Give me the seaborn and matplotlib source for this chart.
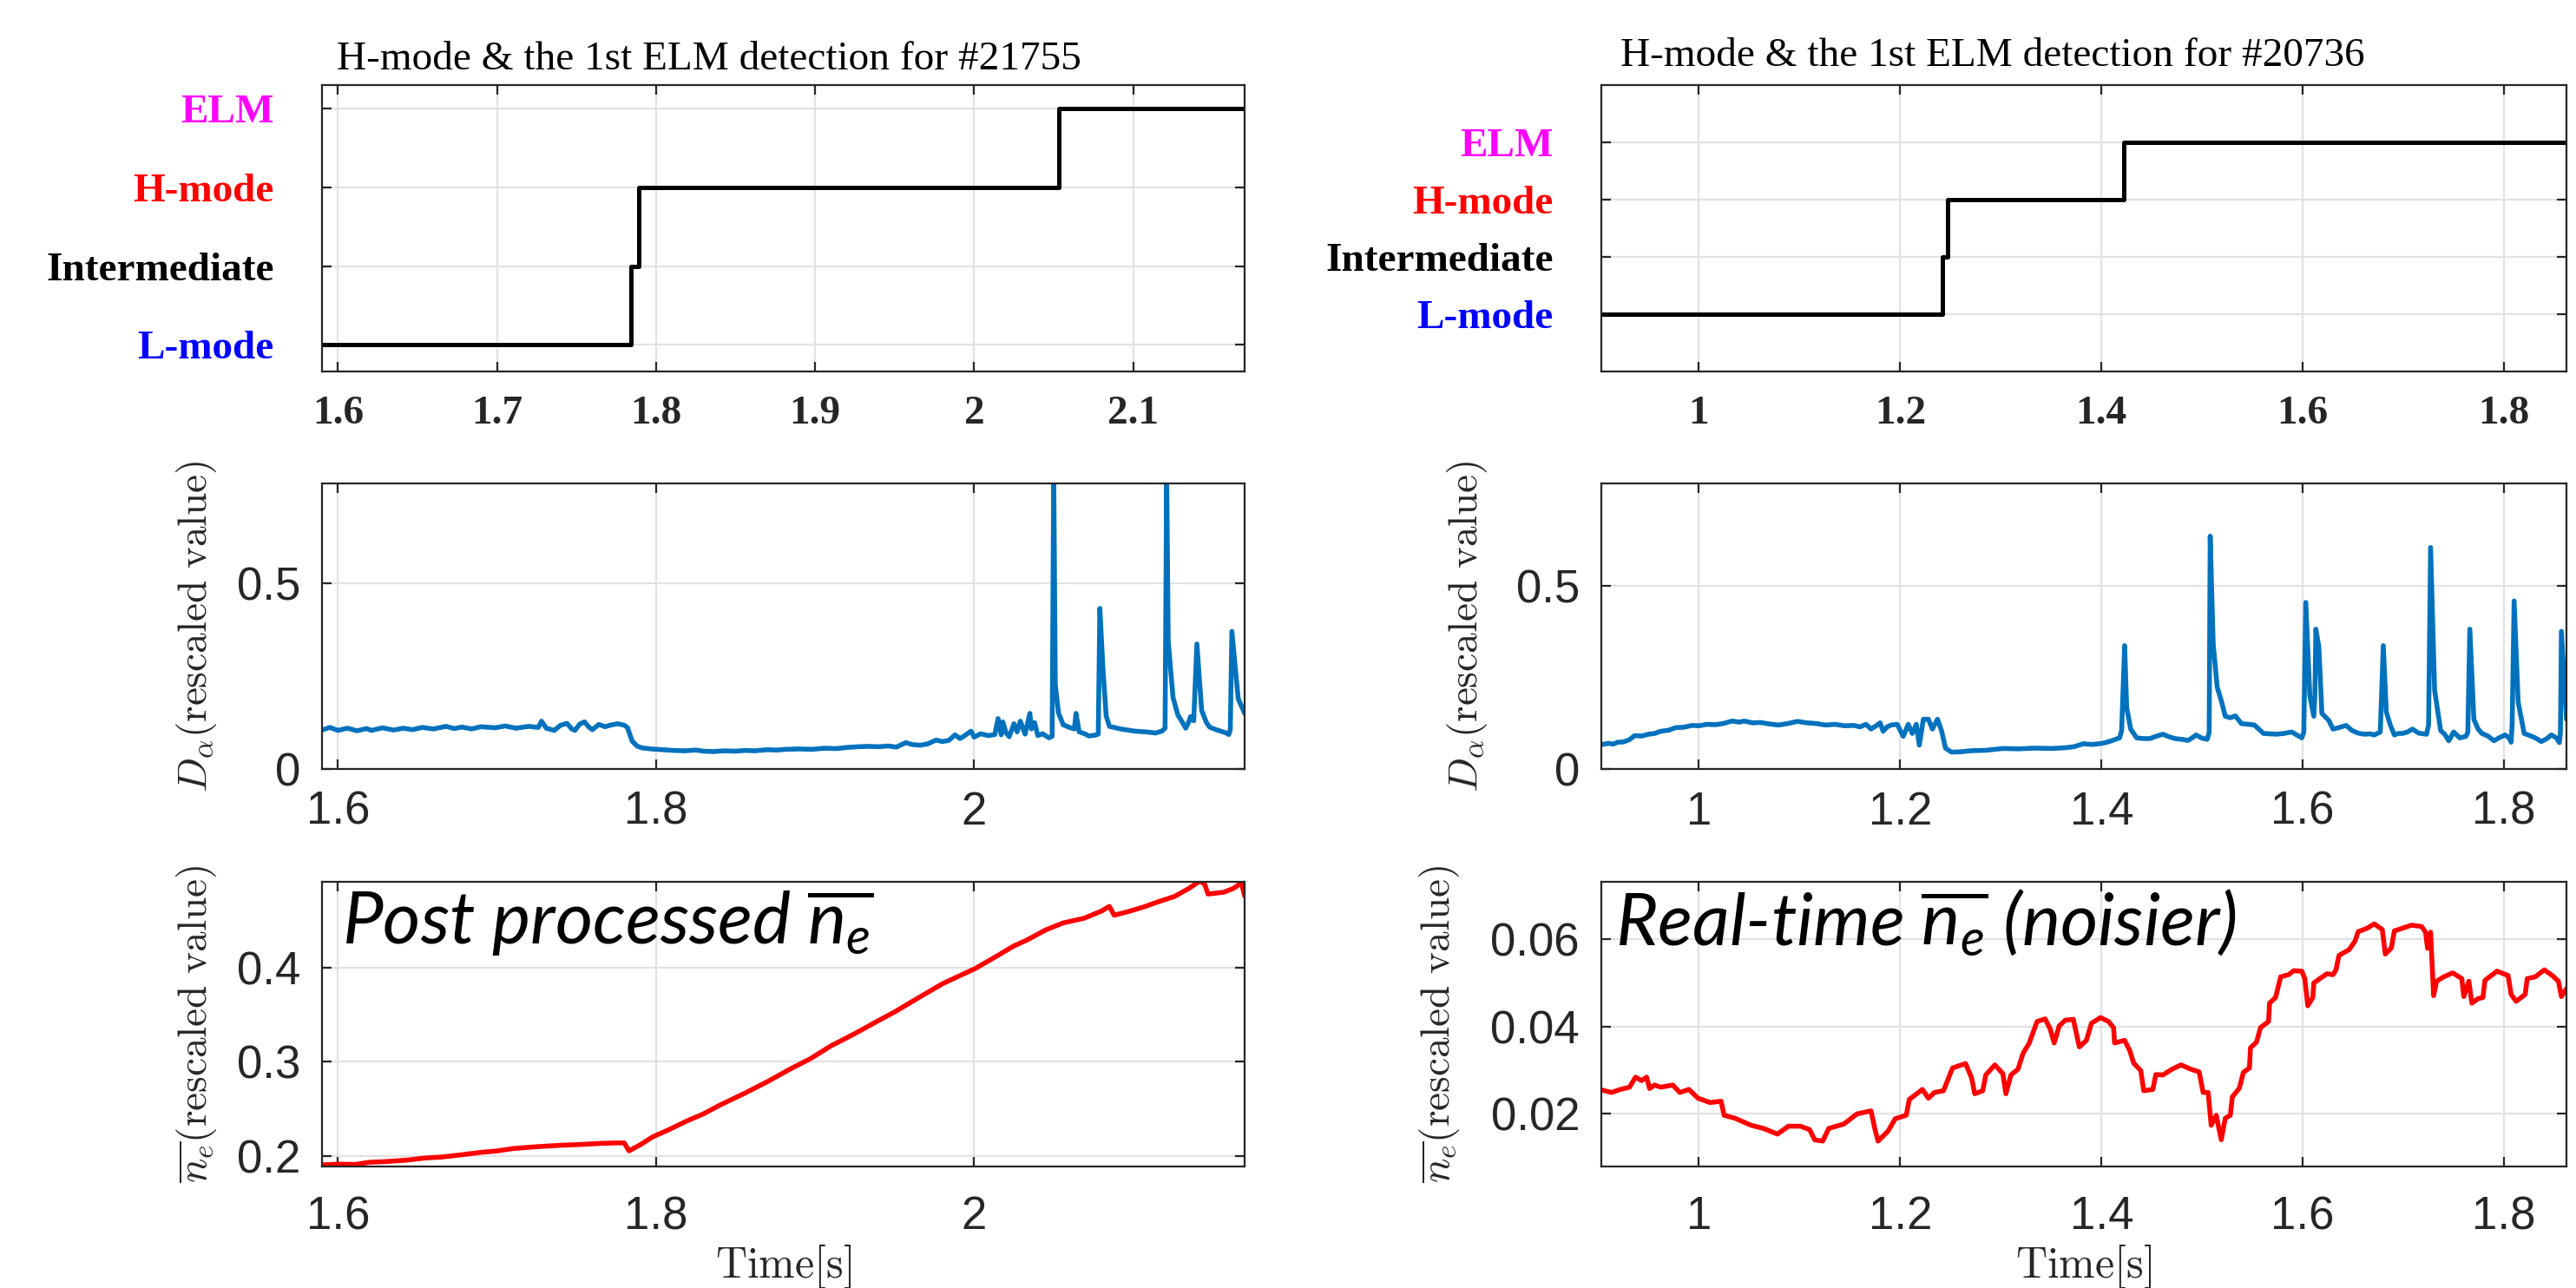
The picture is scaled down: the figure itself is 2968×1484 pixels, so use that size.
import numpy as np
import pandas as pd
import seaborn as sns
import matplotlib.pyplot as plt

# ---- state detection (top row) ----
state_names = ["L-mode", "Intermediate", "H-mode", "ELM"]
state_colors = ["#0000ff", "black", "#ff0000", "#ff00ff"]

t_state_l = [1.59, 1.784, 1.789, 2.053, 2.17]
state_l = [0, 1, 2, 3, 3]
t_state_r = [0.90, 1.242, 1.247, 1.422, 1.87]
state_r = [0, 1, 2, 3, 3]

# ---- D_alpha (middle row) ----
t_da_l = [1.590, 1.595, 1.600, 1.606, 1.612, 1.618, 1.621, 1.628, 1.635, 1.641,
          1.647, 1.653, 1.660, 1.668, 1.673, 1.678, 1.684, 1.690, 1.699, 1.705,
          1.712, 1.720, 1.726, 1.728, 1.731, 1.736, 1.740, 1.744, 1.747, 1.749,
          1.752, 1.755, 1.758, 1.760, 1.764, 1.768, 1.772, 1.776, 1.780, 1.782,
          1.785, 1.788, 1.791, 1.797, 1.804, 1.811, 1.818, 1.825, 1.830, 1.836,
          1.843, 1.850, 1.856, 1.862, 1.870, 1.876, 1.882, 1.890, 1.898, 1.906,
          1.913, 1.920, 1.927, 1.933, 1.940, 1.946, 1.951, 1.957, 1.961, 1.966,
          1.971, 1.976, 1.980, 1.984, 1.988, 1.991, 1.993, 1.998, 2.000, 2.004,
          2.009, 2.013, 2.015, 2.017, 2.018, 2.020, 2.022, 2.025, 2.027, 2.029,
          2.032, 2.035, 2.036, 2.038, 2.040, 2.043, 2.047, 2.049, 2.050, 2.051,
          2.053, 2.056, 2.060, 2.063, 2.064, 2.066, 2.070, 2.072, 2.076, 2.078,
          2.079, 2.081, 2.083, 2.085, 2.092, 2.101, 2.108, 2.114, 2.118, 2.120,
          2.121, 2.122, 2.125, 2.128, 2.131, 2.133, 2.135, 2.136, 2.138, 2.140,
          2.143, 2.146, 2.148, 2.152, 2.155, 2.158, 2.160, 2.161, 2.162, 2.166,
          2.170]
da_l = [0.105, 0.112, 0.104, 0.110, 0.103, 0.109, 0.104, 0.111, 0.105, 0.110,
        0.106, 0.112, 0.108, 0.115, 0.109, 0.113, 0.108, 0.114, 0.111, 0.116,
        0.110, 0.115, 0.112, 0.129, 0.110, 0.104, 0.118, 0.123, 0.108, 0.104,
        0.121, 0.127, 0.112, 0.106, 0.120, 0.114, 0.119, 0.122, 0.118, 0.112,
        0.075, 0.062, 0.057, 0.054, 0.052, 0.050, 0.049, 0.051, 0.048, 0.047,
        0.049, 0.048, 0.050, 0.049, 0.052, 0.051, 0.053, 0.054, 0.053, 0.056,
        0.055, 0.058, 0.060, 0.061, 0.060, 0.062, 0.059, 0.071, 0.066, 0.064,
        0.068, 0.078, 0.074, 0.077, 0.092, 0.082, 0.087, 0.102, 0.086, 0.095,
        0.090, 0.093, 0.136, 0.092, 0.127, 0.098, 0.087, 0.122, 0.100, 0.129,
        0.094, 0.150, 0.108, 0.125, 0.090, 0.095, 0.084, 0.088, 0.800, 0.228,
        0.151, 0.119, 0.112, 0.108, 0.150, 0.100, 0.094, 0.089, 0.091, 0.094,
        0.433, 0.267, 0.143, 0.115, 0.108, 0.102, 0.100, 0.097, 0.102, 0.110,
        0.800, 0.344, 0.193, 0.146, 0.125, 0.110, 0.128, 0.141, 0.130, 0.337,
        0.158, 0.125, 0.113, 0.106, 0.102, 0.098, 0.093, 0.105, 0.371, 0.189,
        0.150]

t_da_r = [0.904, 0.910, 0.915, 0.919, 0.925, 0.931, 0.936, 0.943, 0.950, 0.956,
          0.962, 0.970, 0.977, 0.985, 0.993, 1.000, 1.008, 1.016, 1.024, 1.033,
          1.040, 1.045, 1.053, 1.061, 1.070, 1.079, 1.088, 1.098, 1.107, 1.117,
          1.126, 1.135, 1.145, 1.154, 1.160, 1.166, 1.171, 1.176, 1.180, 1.183,
          1.187, 1.191, 1.197, 1.203, 1.208, 1.212, 1.216, 1.219, 1.223, 1.228,
          1.232, 1.237, 1.241, 1.245, 1.251, 1.260, 1.271, 1.285, 1.302, 1.318,
          1.333, 1.350, 1.364, 1.373, 1.382, 1.390, 1.398, 1.404, 1.410, 1.418,
          1.420, 1.423, 1.425, 1.429, 1.435, 1.442, 1.448, 1.455, 1.461, 1.467,
          1.473, 1.480, 1.486, 1.490, 1.494, 1.500, 1.505, 1.507, 1.508, 1.511,
          1.515, 1.519, 1.523, 1.528, 1.533, 1.539, 1.546, 1.552, 1.561, 1.568,
          1.574, 1.581, 1.589, 1.594, 1.599, 1.601, 1.603, 1.607, 1.611, 1.612,
          1.613, 1.616, 1.619, 1.626, 1.630, 1.636, 1.643, 1.649, 1.655, 1.661,
          1.667, 1.671, 1.677, 1.680, 1.683, 1.687, 1.691, 1.695, 1.699, 1.704,
          1.709, 1.715, 1.723, 1.725, 1.727, 1.731, 1.737, 1.741, 1.745, 1.750,
          1.756, 1.762, 1.764, 1.766, 1.770, 1.774, 1.778, 1.784, 1.790, 1.795,
          1.801, 1.805, 1.807, 1.808, 1.810, 1.814, 1.820, 1.825, 1.831, 1.837,
          1.842, 1.847, 1.852, 1.855, 1.856, 1.857, 1.862]
da_r = [0.067, 0.070, 0.068, 0.073, 0.074, 0.080, 0.091, 0.090, 0.095, 0.097,
        0.103, 0.106, 0.113, 0.114, 0.119, 0.118, 0.122, 0.121, 0.124, 0.131,
        0.128, 0.131, 0.126, 0.127, 0.123, 0.120, 0.124, 0.130, 0.126, 0.124,
        0.120, 0.122, 0.118, 0.119, 0.115, 0.122, 0.109, 0.118, 0.126, 0.103,
        0.115, 0.120, 0.122, 0.089, 0.122, 0.097, 0.122, 0.065, 0.136, 0.136,
        0.109, 0.136, 0.105, 0.057, 0.046, 0.047, 0.050, 0.051, 0.056, 0.055,
        0.057, 0.056, 0.058, 0.061, 0.069, 0.067, 0.069, 0.072, 0.077, 0.085,
        0.105, 0.337, 0.168, 0.109, 0.085, 0.083, 0.083, 0.090, 0.095, 0.088,
        0.083, 0.081, 0.078, 0.085, 0.093, 0.084, 0.081, 0.100, 0.636, 0.341,
        0.223, 0.187, 0.144, 0.140, 0.145, 0.124, 0.122, 0.120, 0.097, 0.096,
        0.095, 0.097, 0.101, 0.093, 0.085, 0.100, 0.455, 0.199, 0.144, 0.200,
        0.382, 0.333, 0.152, 0.132, 0.109, 0.113, 0.119, 0.105, 0.098, 0.095,
        0.096, 0.093, 0.101, 0.337, 0.156, 0.120, 0.093, 0.097, 0.097, 0.101,
        0.109, 0.098, 0.095, 0.120, 0.605, 0.215, 0.105, 0.095, 0.077, 0.101,
        0.085, 0.089, 0.100, 0.382, 0.136, 0.110, 0.097, 0.090, 0.077, 0.085,
        0.093, 0.085, 0.073, 0.120, 0.459, 0.183, 0.097, 0.092, 0.085, 0.075,
        0.082, 0.093, 0.085, 0.072, 0.100, 0.376, 0.136]

# ---- line averaged density (bottom row) ----
t_ne_l = [1.590, 1.600, 1.611, 1.620, 1.630, 1.643, 1.655, 1.665, 1.674, 1.690,
          1.700, 1.710, 1.725, 1.740, 1.752, 1.765, 1.775, 1.780, 1.783, 1.790,
          1.798, 1.808, 1.819, 1.830, 1.840, 1.856, 1.870, 1.885, 1.897, 1.910,
          1.925, 1.939, 1.950, 1.965, 1.980, 2.001, 2.015, 2.025, 2.033, 2.045,
          2.056, 2.069, 2.080, 2.085, 2.088, 2.096, 2.106, 2.116, 2.126, 2.135,
          2.142, 2.145, 2.147, 2.152, 2.157, 2.163, 2.168, 2.170]
ne_l = [0.1907, 0.1915, 0.1912, 0.1935, 0.1942, 0.1957, 0.1980, 0.1990, 0.2007, 0.2040,
        0.2055, 0.2080, 0.2100, 0.2115, 0.2123, 0.2135, 0.2140, 0.2140, 0.2056, 0.2120,
        0.2205, 0.2280, 0.2370, 0.2450, 0.2540, 0.2669, 0.2790, 0.2930, 0.3033, 0.3170,
        0.3300, 0.3430, 0.3530, 0.3680, 0.3828, 0.3993, 0.4130, 0.4230, 0.4291, 0.4400,
        0.4474, 0.4523, 0.4600, 0.4649, 0.4556, 0.4590, 0.4640, 0.4700, 0.4755, 0.4840,
        0.4920, 0.4880, 0.4780, 0.4790, 0.4800, 0.4840, 0.4900, 0.4760]

t_ne_r = [0.903, 0.913, 0.922, 0.931, 0.937, 0.943, 0.948, 0.951, 0.956, 0.962,
          0.974, 0.981, 0.990, 0.999, 1.011, 1.022, 1.025, 1.036, 1.052, 1.064,
          1.078, 1.089, 1.101, 1.110, 1.115, 1.123, 1.129, 1.144, 1.157, 1.171,
          1.175, 1.178, 1.188, 1.195, 1.206, 1.209, 1.222, 1.228, 1.234, 1.243,
          1.252, 1.265, 1.271, 1.274, 1.282, 1.285, 1.294, 1.302, 1.305, 1.310,
          1.317, 1.322, 1.328, 1.336, 1.344, 1.349, 1.353, 1.358, 1.364, 1.372,
          1.378, 1.385, 1.390, 1.399, 1.407, 1.412, 1.413, 1.423, 1.428, 1.432,
          1.439, 1.442, 1.451, 1.454, 1.461, 1.470, 1.479, 1.489, 1.497, 1.501,
          1.506, 1.509, 1.514, 1.519, 1.523, 1.528, 1.530, 1.537, 1.541, 1.547,
          1.548, 1.554, 1.558, 1.566, 1.567, 1.573, 1.578, 1.586, 1.591, 1.599,
          1.602, 1.605, 1.610, 1.611, 1.617, 1.624, 1.630, 1.633, 1.636, 1.646,
          1.652, 1.655, 1.664, 1.671, 1.679, 1.682, 1.688, 1.691, 1.699, 1.708,
          1.718, 1.722, 1.724, 1.727, 1.730, 1.733, 1.740, 1.749, 1.758, 1.760,
          1.765, 1.768, 1.774, 1.779, 1.781, 1.793, 1.804, 1.807, 1.812, 1.821,
          1.823, 1.831, 1.840, 1.848, 1.854, 1.857, 1.862]
ne_r = [0.0255, 0.0249, 0.0256, 0.0261, 0.0284, 0.0276, 0.0284, 0.0258, 0.0266, 0.0261,
        0.0266, 0.0249, 0.0256, 0.0236, 0.0226, 0.0229, 0.0197, 0.0190, 0.0174, 0.0167,
        0.0154, 0.0172, 0.0172, 0.0164, 0.0141, 0.0138, 0.0167, 0.0177, 0.0200, 0.0207,
        0.0164, 0.0138, 0.0161, 0.0189, 0.0197, 0.0233, 0.0256, 0.0236, 0.0249, 0.0253,
        0.0305, 0.0315, 0.0282, 0.0246, 0.0253, 0.0289, 0.0312, 0.0292, 0.0246, 0.0289,
        0.0302, 0.0338, 0.0361, 0.0411, 0.0417, 0.0394, 0.0362, 0.0401, 0.0414, 0.0416,
        0.0353, 0.0368, 0.0407, 0.0420, 0.0411, 0.0397, 0.0362, 0.0368, 0.0345, 0.0316,
        0.0299, 0.0253, 0.0256, 0.0290, 0.0289, 0.0302, 0.0312, 0.0302, 0.0296, 0.0249,
        0.0249, 0.0174, 0.0197, 0.0141, 0.0190, 0.0197, 0.0239, 0.0259, 0.0295, 0.0305,
        0.0351, 0.0364, 0.0397, 0.0411, 0.0453, 0.0466, 0.0513, 0.0518, 0.0527, 0.0526,
        0.0509, 0.0447, 0.0466, 0.0499, 0.0509, 0.0520, 0.0518, 0.0529, 0.0562, 0.0575,
        0.0595, 0.0616, 0.0624, 0.0634, 0.0621, 0.0565, 0.0579, 0.0618, 0.0624, 0.0631,
        0.0628, 0.0615, 0.0578, 0.0615, 0.0470, 0.0503, 0.0513, 0.0522, 0.0509, 0.0468,
        0.0503, 0.0453, 0.0463, 0.0466, 0.0505, 0.0526, 0.0516, 0.0473, 0.0457, 0.0473,
        0.0509, 0.0513, 0.0529, 0.0516, 0.0503, 0.0468, 0.0486]

sns.set_style("white")
plt.rcParams["font.family"] = ["Liberation Sans", "DejaVu Sans"]
plt.rcParams["mathtext.fontset"] = "custom"
plt.rcParams["mathtext.it"] = "Lato:italic"
plt.rcParams["mathtext.rm"] = "Lato"

W, H = 2968, 1484
fig = plt.figure(figsize=(W / 200, H / 200), dpi=200)


def box(x0, y0, x1, y1):
    return [x0 / W, 1 - y1 / H, (x1 - x0) / W, (y1 - y0) / H]


def style(ax):
    ax.grid(True, color="#e2e2e2", lw=0.8)
    ax.set_axisbelow(True)
    for s in ax.spines.values():
        s.set_color("#262626")
        s.set_linewidth(0.8)
    ax.tick_params(direction="in", top=True, right=True, bottom=True, left=True,
                   length=4, width=0.8, color="#262626", labelcolor="#262626")


def line(ax, t, v, color, lw, **kw):
    df = pd.DataFrame({"t": t, "v": v})
    sns.lineplot(data=df, x="t", y="v", ax=ax, color=color, lw=lw,
                 estimator=None, sort=False, **kw)
    ax.set_xlabel("")
    ax.set_ylabel("")


cols = [
    dict(x0=371, x1=1434, t_state=t_state_l, state=state_l, ylim_state=(-0.34, 3.3),
         xlim=(1.59, 2.17), xt_top=[1.6, 1.7, 1.8, 1.9, 2.0, 2.1],
         xtl_top=["1.6", "1.7", "1.8", "1.9", "2", "2.1"],
         xt=[1.6, 1.8, 2.0], xtl=["1.6", "1.8", "2"],
         t_da=t_da_l, da=da_l, ylim_da=(0, 0.77),
         t_ne=t_ne_l, ne=ne_l, ylim_ne=(0.189, 0.491),
         yt_ne=[0.2, 0.3, 0.4], ytl_ne=["0.2", "0.3", "0.4"],
         title="H-mode & the 1st ELM detection for #21755", title_xy=(388, 80),
         note=r"Post processed $\overline{n_e}$", note_xy=(0.022, 0.78),
         ylab_x_da=-0.112, ylab_x_ne=-0.112),
    dict(x0=1845, x1=2957, t_state=t_state_r, state=state_r, ylim_state=(-1, 4),
         xlim=(0.903, 1.862), xt_top=[1.0, 1.2, 1.4, 1.6, 1.8],
         xtl_top=["1", "1.2", "1.4", "1.6", "1.8"],
         xt=[1.0, 1.2, 1.4, 1.6, 1.8], xtl=["1", "1.2", "1.4", "1.6", "1.8"],
         t_da=t_da_r, da=da_r, ylim_da=(0, 0.78),
         t_ne=t_ne_r, ne=ne_r, ylim_ne=(0.008, 0.073),
         yt_ne=[0.02, 0.04, 0.06], ytl_ne=["0.02", "0.04", "0.06"],
         title="H-mode & the 1st ELM detection for #20736", title_xy=(1867, 76),
         note=r"Real-time $\overline{n_e}$ (noisier)", note_xy=(0.014, 0.777),
         ylab_x_da=-0.116, ylab_x_ne=-0.145),
]

serif = "Liberation Serif"
tick_fs = 19
for c in cols:
    # top: state
    ax = fig.add_axes(box(c["x0"], 98, c["x1"], 428))
    line(ax, c["t_state"], c["state"], "black", 1.8, drawstyle="steps-post")
    ax.set_xlim(*c["xlim"])
    ax.set_ylim(*c["ylim_state"])
    ax.set_xticks(c["xt_top"], c["xtl_top"], fontfamily=serif, fontweight="bold", fontsize=17)
    ax.set_yticks(range(4), state_names, fontfamily=serif, fontweight="bold", fontsize=17)
    style(ax)
    for lab, col in zip(ax.get_yticklabels(), state_colors):
        lab.set_color(col)
    ax.tick_params(axis="y", pad=20)
    ax.tick_params(axis="x", pad=10)
    fig.text(c["title_xy"][0] / W, 1 - c["title_xy"][1] / H, c["title"],
             fontfamily=serif, fontsize=17, va="baseline", ha="left", color="black")

    # middle: D_alpha
    ax = fig.add_axes(box(c["x0"], 557, c["x1"], 886))
    line(ax, c["t_da"], c["da"], "#0072bd", 2.0)
    ax.set_xlim(*c["xlim"])
    ax.set_ylim(*c["ylim_da"])
    ax.set_xticks(c["xt"], c["xtl"], fontsize=tick_fs)
    ax.set_yticks([0, 0.5], ["0", "0.5"], fontsize=tick_fs)
    style(ax)
    ax.tick_params(axis="both", pad=9)
    ax.set_ylabel(r"$D_\alpha\mathrm{(rescaled\ value)}$", fontsize=17,
                  math_fontfamily="cm", color="#262626")
    ax.yaxis.set_label_coords(c["ylab_x_da"], 0.5)

    # bottom: density
    ax = fig.add_axes(box(c["x0"], 1016, c["x1"], 1344))
    line(ax, c["t_ne"], c["ne"], "#ff0000", 2.0)
    ax.set_xlim(*c["xlim"])
    ax.set_ylim(*c["ylim_ne"])
    ax.set_xticks(c["xt"], c["xtl"], fontsize=tick_fs)
    ax.set_yticks(c["yt_ne"], c["ytl_ne"], fontsize=tick_fs)
    style(ax)
    ax.tick_params(axis="y", pad=9)
    ax.tick_params(axis="x", pad=12)
    ax.set_ylabel(r"$\overline{n_e}\mathrm{(rescaled\ value)}$", fontsize=17,
                  math_fontfamily="cm", color="#262626")
    ax.yaxis.set_label_coords(c["ylab_x_ne"], 0.5)
    ax.set_xlabel(r"$\mathrm{Time[s]}$", fontsize=18, math_fontfamily="cm", color="#262626")
    ax.xaxis.set_label_coords(0.5, -0.265)
    ax.text(c["note_xy"][0], c["note_xy"][1], c["note"], transform=ax.transAxes,
            fontsize=30, fontfamily="Lato", fontstyle="italic", va="baseline",
            ha="left", math_fontfamily="custom", color="black")

fig.savefig("out.png", dpi=200)
